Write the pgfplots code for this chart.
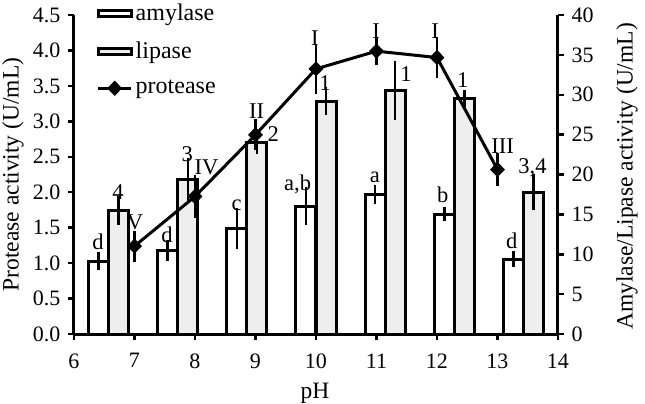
\documentclass[border=0pt]{standalone}
\usepackage{fontspec}
\setmainfont{Liberation Serif}
\usepackage{pgfplots}
\usepackage{pgfplotstable}
\pgfplotsset{compat=1.18}
\definecolor{lipfill}{RGB}{238,238,238}
\newcommand{\tickfont}{\fontsize{22bp}{26bp}\selectfont}
\newcommand{\labfont}{\fontsize{23.5bp}{28bp}\selectfont}
\newcommand{\legfont}{\fontsize{24bp}{28bp}\selectfont}

% amylase and lipase in U/mL (right axis), protease in U/mL (left axis)
\pgfplotstableread{
x y err
6.405 9.15 0.4
7.548 10.45 0.6
8.691 13.25 1.9
9.834 16.05 1.7
10.977 17.5 0.5
12.12 15.0 0.2
13.262 9.4 0.3
}\amylase
\pgfplotstableread{
x y err
6.738 15.5 1.15
7.881 19.4 2.0
9.024 24.0 0.8
10.166 29.2 1.1
11.309 30.5 3.0
12.452 29.55 0.4
13.595 17.8 1.6
}\lipase
\pgfplotstableread{
x y err
7 1.24 0.14
8 1.94 0.22
9 2.81 0.14
10 3.74 0.27
11 3.99 0.12
12 3.90 0.21
13 2.32 0.155
}\protease

\pgfplotsset{
  frame/.style={scale only axis, width=484bp, height=319bp,
    xmin=6, xmax=14, ymin=0, tick align=outside, major tick length=6bp,
    axis line style={line width=3bp,-}, major tick style={line width=2.5bp, black},
    tick label style={font=\tickfont}, label style={font=\labfont},
    legend style={font=\legfont},
    /pgf/number format/assume math mode=true},
  errs/.style={error bars/.cd, y dir=both, y explicit, error mark=-,
    error bar style={line width=2.5bp, black},
    error mark options={line width=2.5bp, mark size=5.5bp, black}, /pgfplots/.cd},
  barleg/.style={legend image code/.code={\draw[##1] (0bp,-3bp) rectangle (33bp,3bp);}},
  lineleg/.style={legend image code/.code={\draw[##1, mark repeat=2, mark phase=2]
      plot coordinates {(0bp,0bp) (16.5bp,0bp) (33bp,0bp)};}}
}

\begin{document}
\tickfont
\begin{tikzpicture}[font=\tickfont]
\useasboundingbox (-74bp,-70bp) rectangle (571bp,334bp);

\begin{axis}[frame, ymax=40, axis x line=none, axis y line*=right,
    ytick={0,5,...,40}, ylabel={Amylase/Lipase activity (U/mL)},
    ylabel style={at={(axis description cs:1.1426,0.494)}, anchor=center, rotate=0},
    ybar, bar width=20bp, bar shift=0pt]
  \addplot[fill=white, draw=black, line width=3bp, errs] table[x=x, y=y, y error=err]{\amylase};
  \addplot[fill=lipfill, draw=black, line width=3bp, errs] table[x=x, y=y, y error=err]{\lipase};
\end{axis}

\begin{axis}[frame, ymax=4.5, axis x line*=bottom, axis y line*=left, clip=false,
    xtick={6,...,14}, ytick={0,0.5,...,4.5},
    xticklabel style={yshift=-6bp},
    yticklabel style={/pgf/number format/.cd, fixed, fixed zerofill, precision=1},
    xlabel={pH}, xlabel style={at={(axis description cs:0.498,-0.185)}, anchor=center},
    ylabel={Protease activity (U/mL)},
    ylabel style={at={(axis description cs:-0.126,0.50)}, anchor=center},
    legend cell align=left,
    legend style={at={(rel axis cs:0.0465,1.040)}, anchor=north west, draw=none, fill=none,
      inner sep=0pt, row sep=15bp, nodes={inner ysep=1.5bp, inner xsep=3bp}}]
  \addlegendimage{draw=black, fill=white, line width=3bp, barleg}
  \addlegendentry{amylase}
  \addlegendimage{draw=black, fill=lipfill, line width=3bp, barleg}
  \addlegendentry{lipase}
  \addplot[black, line width=3bp, mark=diamond*, mark size=5.5bp,
    mark options={xscale=1.3}, lineleg, errs]
    table[x=x, y=y, y error=err]{\protease};
  \addlegendentry{protease}
  \path[every node/.style={anchor=base, font=\fontsize{22.5bp}{26bp}\selectfont}]
    (axis cs:6.397,1.192) node {d}
    (axis cs:6.727,1.897) node {4}
    (axis cs:7.008,1.481) node {V}
    (axis cs:7.537,1.291) node {d}
    (axis cs:7.870,2.440) node {3}
    (axis cs:8.190,2.243) node {IV}
    (axis cs:8.689,1.749) node {c}
    (axis cs:9.020,3.033) node {II}
    (axis cs:9.294,2.722) node {2}
    (axis cs:9.697,2.031) node {a,b}
    (axis cs:9.983,4.070) node {I}
    (axis cs:10.149,3.442) node {1}
    (axis cs:10.975,2.144) node {a}
    (axis cs:10.992,4.175) node {I}
    (axis cs:11.488,3.555) node {1}
    (axis cs:11.967,4.175) node {I}
    (axis cs:12.094,1.862) node {b}
    (axis cs:12.425,3.484) node {1}
    (axis cs:13.083,2.553) node {III}
    (axis cs:13.236,1.213) node {d}
    (axis cs:13.579,2.271) node {3,4};
\end{axis}
\end{tikzpicture}
\end{document}
